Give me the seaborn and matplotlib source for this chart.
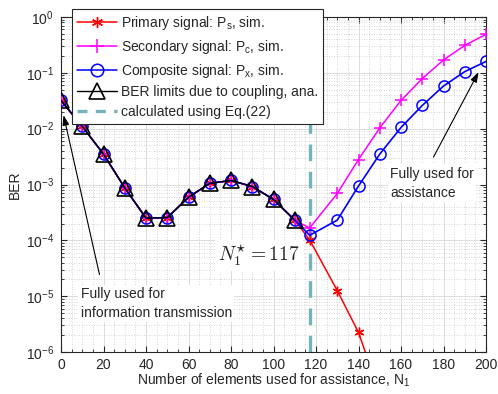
import numpy as np
import pandas as pd
import seaborn as sns
import matplotlib
matplotlib.use("Agg")
import matplotlib.pyplot as plt
from matplotlib.ticker import MultipleLocator, LogLocator, NullFormatter
from matplotlib.lines import Line2D

# Number of elements used for assistance
n_low = [0, 10, 20, 30, 40, 50, 60, 70, 80, 90, 100, 110]
n_high_s = [117, 130, 140, 150]
n_high = [117, 130, 140, 150, 160, 170, 180, 190, 200]

# BER limited by coupling (analytical), identical for all signals below N1*
ber_coupling = [3.2e-2, 1.1e-2, 3.5e-3, 8.7e-4, 2.5e-4, 2.55e-4,
                5.9e-4, 1.05e-3, 1.18e-3, 9.2e-4, 5.4e-4, 2.3e-4]
# Beyond N1* the curves separate
ber_primary_hi = [1.02e-4, 1.26e-5, 2.24e-6, 1.8e-7]
ber_secondary_hi = [1.66e-4, 6.9e-4, 2.8e-3, 1.03e-2, 3.2e-2, 7.9e-2, 0.17, 0.31, 0.49]
ber_composite_hi = [1.23e-4, 2.3e-4, 9.4e-4, 3.5e-3, 1.05e-2, 2.6e-2, 5.8e-2, 0.105, 0.16]

n_star = 117

labels = [r"Primary signal: P$_\mathregular{s}$, sim.",
          r"Secondary signal: P$_\mathregular{c}$, sim.",
          r"Composite signal: P$_\mathregular{x}$, sim.",
          "BER limits due to coupling, ana.",
          "calculated using Eq.(22)"]

sns.set_style("ticks")
plt.rcParams["font.family"] = ["Liberation Sans", "DejaVu Sans"]
plt.rcParams["mathtext.fontset"] = "custom"
plt.rcParams["mathtext.rm"] = "Liberation Sans"
plt.rcParams["mathtext.it"] = "Liberation Sans:italic"
plt.rcParams["mathtext.bf"] = "Liberation Sans:bold"

fig = plt.figure(figsize=(4.98, 3.94), dpi=100)
ax = fig.add_axes([61 / 498, 1 - 352 / 394, 425 / 498, 335 / 394])

teal = "#74b3b8"
ax.axvline(n_star, color=teal, lw=2.4, ls=(0, (5, 3.2)), zorder=1)

df_p = pd.DataFrame({"n": n_low + n_high_s, "ber": ber_coupling + ber_primary_hi})
df_s = pd.DataFrame({"n": n_low + n_high, "ber": ber_coupling + ber_secondary_hi})
df_x = pd.DataFrame({"n": n_low + n_high, "ber": ber_coupling + ber_composite_hi})
df_c = pd.DataFrame({"n": n_low, "ber": ber_coupling})

sns.lineplot(data=df_p, x="n", y="ber", ax=ax, color="red", lw=1.1,
             marker=(6, 2, 0), markersize=7, markeredgewidth=1.0,
             markeredgecolor="red", zorder=3)
sns.lineplot(data=df_s, x="n", y="ber", ax=ax, color="magenta", lw=1.1,
             marker="+", markersize=9, markeredgewidth=1.1,
             markeredgecolor="magenta", zorder=3)
sns.lineplot(data=df_x, x="n", y="ber", ax=ax, color="blue", lw=1.2,
             marker="o", markersize=8, markerfacecolor="none",
             markeredgewidth=1.1, markeredgecolor="blue", zorder=4)
sns.lineplot(data=df_c, x="n", y="ber", ax=ax, color="black", lw=1.0,
             marker="^", markersize=11, markerfacecolor="none",
             markeredgewidth=1.2, markeredgecolor="black", zorder=5)

ax.set_yscale("log")
ax.set_xlim(0, 200)
ax.set_ylim(1e-6, 1)
ax.xaxis.set_major_locator(MultipleLocator(20))
ax.xaxis.set_minor_locator(MultipleLocator(5))
ax.yaxis.set_major_locator(LogLocator(base=10, numticks=10))
ax.yaxis.set_minor_locator(LogLocator(base=10, subs=np.arange(2, 10), numticks=20))
ax.yaxis.set_minor_formatter(NullFormatter())

ax.grid(which="major", color="#dcdcdc", lw=0.7, ls="-")
ax.grid(which="minor", color="#c8c8c8", lw=0.6, ls=(0, (1, 2)))
ax.set_axisbelow(True)

for s in ax.spines.values():
    s.set_color("#262626")
    s.set_linewidth(0.8)
    s.set_visible(True)
ax.tick_params(which="both", direction="in", top=True, right=True,
               colors="#262626", labelsize=10, pad=5)
ax.tick_params(axis="x", which="both", pad=4)
ax.tick_params(which="major", length=4)
ax.tick_params(which="minor", length=2)

ax.set_xlabel(r"Number of elements used for assistance, N$_\mathregular{1}$",
              fontsize=10, color="#262626", labelpad=0)
ax.set_ylabel("BER", fontsize=10, color="#262626", labelpad=3)

# Legend handles
handles = [
    Line2D([], [], color="red", lw=1.1, marker=(6, 2, 0), markersize=8, markeredgewidth=1.0),
    Line2D([], [], color="magenta", lw=1.1, marker="+", markersize=10, markeredgewidth=1.1),
    Line2D([], [], color="blue", lw=1.1, marker="o", markersize=9, markerfacecolor="none", markeredgewidth=1.1),
    Line2D([], [], color="black", lw=1.0, marker="^", markersize=12, markerfacecolor="none", markeredgewidth=1.2),
    Line2D([], [], color=teal, lw=2.4, ls=(0, (3, 2.5))),
]
leg = ax.legend(handles, labels, loc="upper left",
                bbox_to_anchor=(72 / 498, 1 - 9 / 394), bbox_transform=fig.transFigure,
                fontsize=10, frameon=True, fancybox=False, framealpha=1,
                edgecolor="#262626", handlelength=2.9, handletextpad=0.25,
                labelspacing=0.42, borderpad=0.35, borderaxespad=0)
leg.get_frame().set_linewidth(0.8)
leg.set_zorder(10)

# Annotations
bbox_w = dict(boxstyle="square,pad=0.15", fc="white", ec="none")
ax.text(74, 5.4e-5, r"$N_1^{\star} = 117$", fontsize=14, math_fontfamily="cm",
        va="center", ha="left", bbox=bbox_w, zorder=6)
ax.text(9.2, 7.4e-6, "Fully used for\ninformation transmission", fontsize=10,
        va="center", ha="left", linespacing=1.5, bbox=bbox_w, zorder=6)
ax.text(155, 1.05e-3, "Fully used for\nassistance", fontsize=10,
        va="center", ha="left", linespacing=1.5, bbox=bbox_w, zorder=6)

arrow = dict(arrowstyle="-|>,head_length=0.6,head_width=0.2", color="black", lw=0.8,
             shrinkA=0, shrinkB=0)
ax.annotate("", xy=(1.2, 1.75e-2), xytext=(18.1, 2.45e-5), arrowprops=arrow, zorder=7)
ax.annotate("", xy=(196.5, 0.103), xytext=(175.3, 3.1e-3), arrowprops=arrow, zorder=7)

fig.savefig("out.png", dpi=100)
